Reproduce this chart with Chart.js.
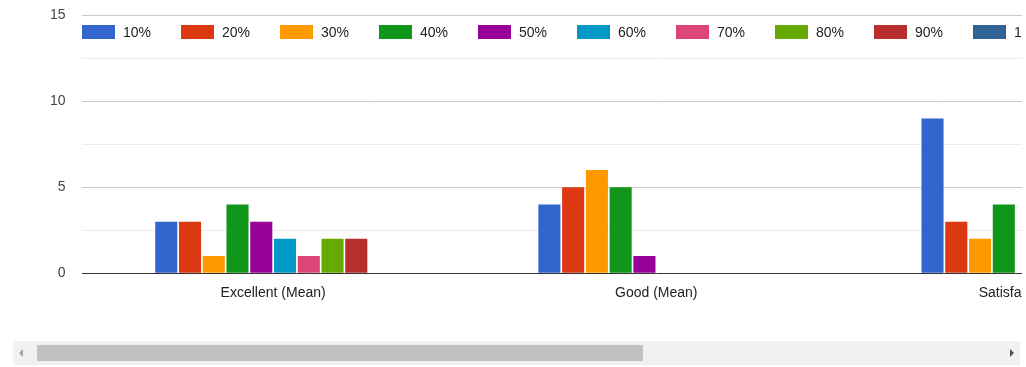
<!DOCTYPE html>
<html>
<head>
<meta charset="utf-8">
<script src="https://cdn.jsdelivr.net/npm/chart.js@4"></script>
<style>
    body { margin: 0; background: #fff; font-family: Arial, "Liberation Sans", sans-serif; }
    #view { position: absolute; left: 0; top: 0; width: 1022px; height: 337px; overflow: hidden; }
    #inner { position: relative; width: 1250px; height: 330px; }
    #myChart { position: absolute; left: 0; top: -9px; }
    #legend { position: absolute; left: 82px; top: 24px; display: flex; white-space: nowrap; }
    .item { width: 99px; display: flex; align-items: center; font-size: 14px; color: #222; height: 16px; }
    .box { width: 31px; height: 12px; margin-right: 8px; box-sizing: content-box; }
    #track { position: absolute; left: 13px; top: 341px; width: 1007px; height: 24px; background: #f1f1f1; }
    #thumb { position: absolute; left: 24px; top: 4px; width: 606px; height: 16px; background: #c1c1c1; }
    .arrow { position: absolute; top: 8px; width: 0; height: 0; border-top: 4px solid transparent; border-bottom: 4px solid transparent; }
</style>
</head>
<body>
<div id="view">
    <div id="inner">
        <canvas id="myChart" width="1250" height="330"></canvas>
        <div id="legend"></div>
    </div>
</div>
<div id="track">
    <div class="arrow" style="left:6px; border-right:4px solid #a3a3a3;"></div>
    <div id="thumb"></div>
    <div class="arrow" style="right:6px; border-left:4px solid #505050;"></div>
</div>

<script>
var categories = ["Excellent (Mean)", "Good (Mean)", "Satisfactory (Mean)"];
var seriesNames = ["10%", "20%", "30%", "40%", "50%", "60%", "70%", "80%", "90%", "100%"];
var seriesColors = ["#3366cc", "#dc3912", "#ff9900", "#109618", "#990099",
                    "#0099c6", "#dd4477", "#66aa00", "#b82e2e", "#316395"];

// one array per category, values for 10% .. 100%
var excellent = [3, 3, 1, 4, 3, 2, 1, 2, 2, 0];
var good = [4, 5, 6, 5, 1, 0, 0, 0, 0, 0];
var satisfactory = [9, 3, 2, 4, 0, 0, 0, 0, 0, 0];

var yTicks = [0, 5, 10, 15];

var datasets = [];
for (var i = 0; i < seriesNames.length; i++) {
    datasets.push({
        label: seriesNames[i],
        data: [excellent[i], good[i], satisfactory[i]],
        backgroundColor: seriesColors[i],
        borderWidth: 0,
        categoryPercentage: 0.62,
        barPercentage: 0.93
    });
}

// legend drawn as html, google style
var legend = document.getElementById("legend");
seriesNames.forEach(function (name, i) {
    var item = document.createElement("div");
    item.className = "item";
    var box = document.createElement("span");
    box.className = "box";
    box.style.background = seriesColors[i];
    box.style.border = "1px solid " + seriesColors[i] + "88";
    item.appendChild(box);
    item.appendChild(document.createTextNode(name));
    legend.appendChild(item);
});

var ctx = document.getElementById("myChart").getContext('2d');

var myChart = new Chart(ctx, {
    type: 'bar',
    data: {
        labels: categories,
        datasets: datasets
    },
    options: {
        responsive: false,
        animation: false,
        devicePixelRatio: 1,
        layout: {
            padding: { left: 34, top: 6, right: 19, bottom: 7 }
        },
        plugins: {
            legend: { display: false },
            tooltip: { enabled: false }
        },
        scales: {
            x: {
                grid: { display: false, drawTicks: false },
                border: { display: false },
                ticks: {
                    padding: 12,
                    color: "#222",
                    font: { family: "Arial, 'Liberation Sans'", size: 14 }
                }
            },
            y: {
                min: 0,
                max: 15,
                border: { display: false },
                grid: {
                    drawTicks: false,
                    lineWidth: 1,
                    color: function (c) {
                        var v = c.tick.value;
                        if (v === 0) return "#333";
                        if (yTicks.indexOf(v) >= 0) return "#cccccc";
                        return "#ebebeb";
                    }
                },
                ticks: {
                    stepSize: 2.5,
                    padding: 16,
                    color: "#444",
                    font: { family: "Arial, 'Liberation Sans'", size: 14 },
                    callback: function (v) {
                        return yTicks.indexOf(v) >= 0 ? v : "";
                    }
                }
            }
        }
    }
});
</script>
</body>
</html>
